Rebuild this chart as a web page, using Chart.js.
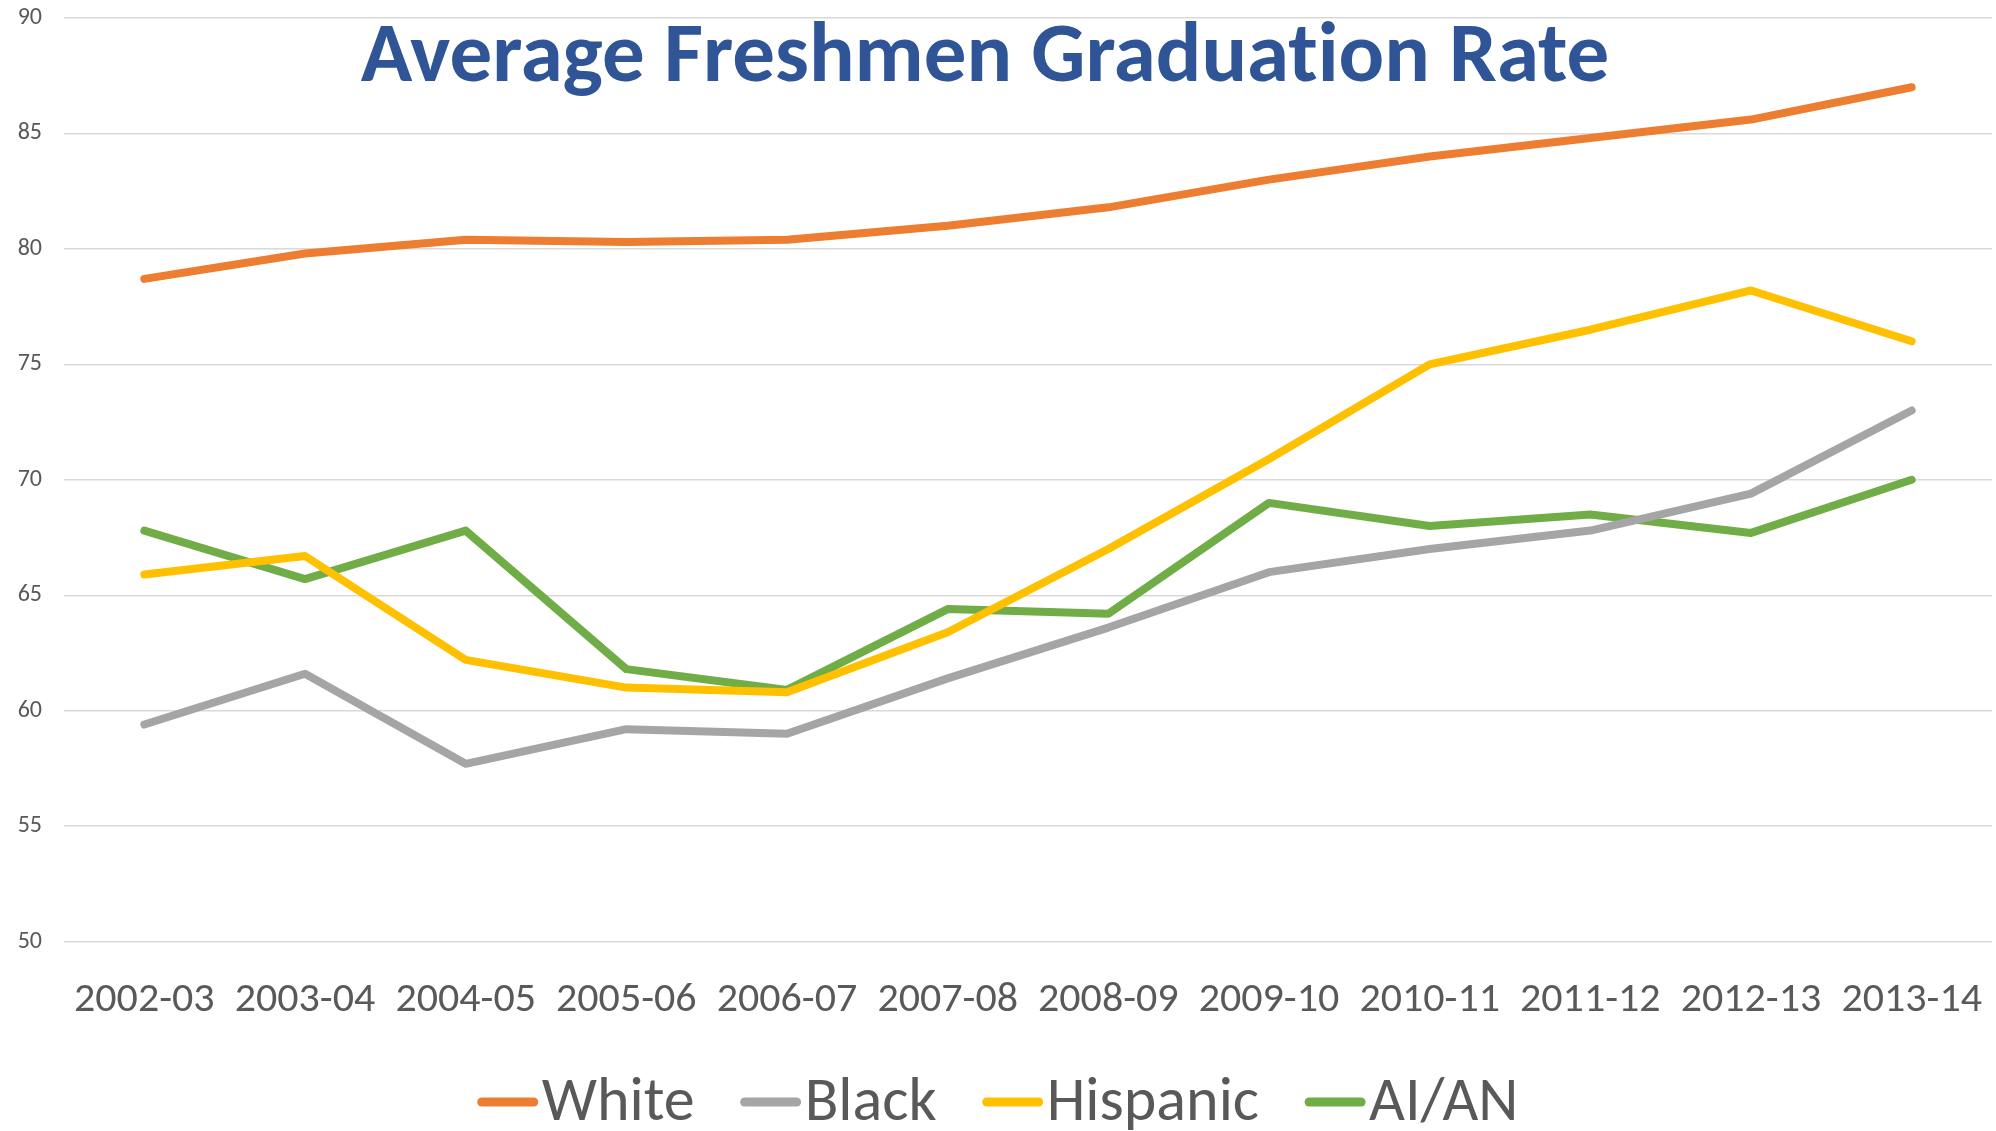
<!DOCTYPE html>
<html>
<head>
<meta charset="utf-8">
<script src="https://cdn.jsdelivr.net/npm/chart.js@4"></script>
<style>
  html, body { margin: 0; padding: 0; background: #fff; }
  #wrap { width: 1996px; height: 1131px; }
</style>
</head>
<body>
<div id="wrap"><canvas id="rateChart"></canvas></div>
<script>
// school years on the x axis
var years = ["2002-03", "2003-04", "2004-05", "2005-06", "2006-07", "2007-08",
             "2008-09", "2009-10", "2010-11", "2011-12", "2012-13", "2013-14"];

// graduation rate per group
var white    = [78.7, 79.8, 80.4, 80.3, 80.4, 81.0, 81.8, 83.0, 84.0, 84.8, 85.6, 87.0];
var black    = [59.4, 61.6, 57.7, 59.2, 59.0, 61.4, 63.6, 66.0, 67.0, 67.8, 69.4, 73.0];
var hispanic = [65.9, 66.7, 62.2, 61.0, 60.8, 63.4, 67.0, 70.9, 75.0, 76.5, 78.2, 76.0];
var aian     = [67.8, 65.7, 67.8, 61.8, 60.9, 64.4, 64.2, 69.0, 68.0, 68.5, 67.7, 70.0];

var yTicks = [50, 55, 60, 65, 70, 75, 80, 85, 90];

var FONT = "Carlito, Lato, 'Open Sans', sans-serif";
var TEXT = "#595959";

function series(label, values, color) {
	return {
		label: label,
		data: values,
		borderColor: color,
		backgroundColor: color,
		borderWidth: 8,
		pointRadius: 0,
		tension: 0,
		borderCapStyle: "round",
		borderJoinStyle: "round"
	};
}

// title sits over the plot, like the office chart it came from
var overlayTitle = {
	id: "overlayTitle",
	afterDraw: function (chart) {
		var c = chart.ctx;
		c.save();
		c.font = "bold 85px " + FONT;
		c.textRendering = "optimizeSpeed";
		c.fillStyle = "#2F5597";
		c.textAlign = "center";
		c.textBaseline = "middle";
		c.fillText("Average Freshmen Graduation Rate", 985, 60);
		c.restore();
	}
};

// legend drawn by hand so the text hugs its line sample
var tightLegend = {
	id: "tightLegend",
	afterDraw: function (chart) {
		var c = chart.ctx;
		var sets = chart.data.datasets;
		var size = 62, sample = 60, gap = 4, between = 46;
		c.save();
		c.font = size + "px " + FONT;
		c.textBaseline = "middle";
		c.textAlign = "left";
		var total = 0;
		sets.forEach(function (ds, i) {
			total += sample + gap + c.measureText(ds.label).width;
			if (i < sets.length - 1) total += between;
		});
		var x = (chart.width - total) / 2;
		var y = 1102;
		sets.forEach(function (ds) {
			c.strokeStyle = ds.borderColor;
			c.lineWidth = 9;
			c.lineCap = "round";
			c.beginPath();
			c.moveTo(x + 4, y);
			c.lineTo(x + sample - 4, y);
			c.stroke();
			x += sample + gap;
			c.fillStyle = TEXT;
			c.fillText(ds.label, x, y + 2);
			x += c.measureText(ds.label).width + between;
		});
		c.restore();
	}
};

var ctx = document.getElementById("rateChart");

var chart = new Chart(ctx, {
	type: "line",
	data: {
		labels: years,
		datasets: [
			series("White", white, "#ED7D31"),
			series("Black", black, "#A5A5A5"),
			series("Hispanic", hispanic, "#FFC000"),
			series("AI/AN", aian, "#70AD47")
		]
	},
	options: {
		responsive: true,
		maintainAspectRatio: false,
		animation: false,
		layout: { padding: { top: 18, right: 4, left: 15, bottom: 79 } },
		plugins: {
			title: { display: false },
			tooltip: { enabled: false },
			legend: { display: false }
		},
		scales: {
			x: {
				offset: true,
				grid: { display: false },
				border: { display: false },
				afterFit: function (axis) {
					axis.paddingLeft = 0;
					axis.paddingRight = 0;
				},
				ticks: {
					color: TEXT,
					font: { family: FONT, size: 42 },
					padding: 26,
					maxRotation: 0,
					autoSkip: false
				}
			},
			y: {
				min: 50,
				max: 90,
				border: { display: false },
				grid: { color: "#D9D9D9", lineWidth: 1.5, drawTicks: false },
				afterBuildTicks: function (axis) {
					axis.ticks = yTicks.map(function (v) { return { value: v }; });
				},
				afterFit: function (axis) {
					axis.width = 49;
					axis.paddingTop = 0;
					axis.paddingBottom = 0;
				},
				ticks: {
					color: TEXT,
					font: { family: FONT, size: 24 },
					padding: 22
				}
			}
		}
	},
	plugins: [overlayTitle, tightLegend]
});
</script>
</body>
</html>
